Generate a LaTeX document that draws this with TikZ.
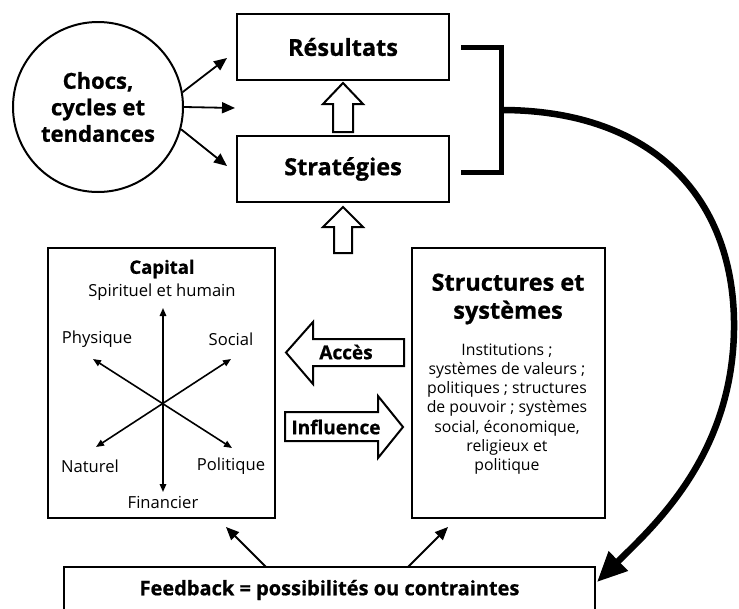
\documentclass[tikz,border=0pt]{standalone}
\usepackage{fontspec}
\setmainfont{Open Sans}[BoldFeatures={FakeBold=0.8}]
\usetikzlibrary{arrows.meta}
\begin{document}
\begin{tikzpicture}[x=1pt,y=-1pt,
  box/.style={draw, line width=2pt, rectangle, inner sep=0pt},
  bigtitle/.style={font=\fontsize{23.5}{28}\selectfont\bfseries, align=center},
  smalltitle/.style={font=\fontsize{19}{21}\selectfont\bfseries},
  label/.style={font=\fontsize{16.6}{19}\selectfont},
  body/.style={font=\fontsize{15.8}{19.2}\selectfont, align=center},
  thinarrow/.style={line width=1.8pt, -{Triangle[length=13pt,width=11pt]}},
  stararrow/.style={line width=1.6pt, {Triangle[length=8pt,width=6.5pt]}-{Triangle[length=8pt,width=6.5pt]}},
  hollow/.style={draw, fill=white, line width=2pt, line join=miter},
  bracket/.style={line width=5pt, line join=miter, line cap=butt},
  loopback/.style={line width=6.5pt, -{Triangle[length=30pt,width=26pt]}}
]
\clip (0,0) rectangle (739,608);
\fill[white] (0,0) rectangle (739,608);

% top boxes
\node[box, bigtitle, minimum width=212pt, minimum height=66pt] (res) at (343,47) {Résultats};
\node[box, bigtitle, minimum width=212pt, minimum height=66pt] (strat) at (343,169) {Stratégies};

% shocks circle
\node[draw, circle, line width=2pt, minimum size=170pt, inner sep=0pt,
      font=\fontsize{22}{26.5}\selectfont\bfseries, align=center] (shock) at (98,107)
      {Chocs,\\cycles et\\tendances};
\coordinate (sh1) at (227,58);
\coordinate (sh2) at (235,108);
\coordinate (sh3) at (227,166);
\draw[thinarrow] (shock.10) -- (sh1);
\draw[thinarrow] (shock.0) -- (sh2);
\draw[thinarrow] (shock.-15) -- (sh3);

% hollow up arrows
\draw[hollow] (333,132) -- (333,104) -- (323,104) -- (343,83) -- (363,104) -- (353,104) -- (353,132) -- cycle;
\draw[hollow] (334,253) -- (334,227) -- (323,227) -- (343,207) -- (363,227) -- (352,227) -- (352,253) -- cycle;

% bracket joining the two top boxes
\coordinate (bt) at (461,47);
\coordinate (bb) at (461,172);
\coordinate (bm) at (501,110);
\draw[bracket] (bt) -- (501,47) -- (501,172) -- (bb);

% capital box
\node[box, minimum width=227pt, minimum height=270pt] (cap) at (161.5,383) {};
\node[font=\fontsize{18.5}{20}\selectfont\bfseries] (captitle) at (162,269) {Capital};
\node[label] (spi) at (162,292) {Spirituel et humain};
\node[label] (phy) at (97,339) {Physique};
\node[label] (soc) at (231,339) {Social};
\node[label] (nat) at (90,466) {Naturel};
\node[label] (pol) at (231,466) {Politique};
\node[label] (fin) at (163,502) {Financier};
\coordinate (sN) at (163,308);
\coordinate (sS) at (163,492);
\coordinate (sNW) at (93,359);
\coordinate (sSE) at (232,448);
\coordinate (sNE) at (231,359);
\coordinate (sSW) at (96,447);
\draw[stararrow] (sS) -- (sN);
\draw[stararrow] (sNW) -- (sSE);
\draw[stararrow] (sSW) -- (sNE);

% structures box
\node[box, minimum width=193pt, minimum height=270pt] (struct) at (508.5,383) {};
\node[bigtitle] (sttitle) at (508,299) {Structures et\\systèmes};
\node[body] (stbody) at (507,409) {Institutions ;\\systèmes de valeurs ;\\politiques ; structures\\de pouvoir ; systèmes\\social, économique,\\religieux et\\politique};

% access and influence arrows
\draw[hollow] (286,352.5) -- (313,322) -- (313,339) -- (404,339) -- (404,366) -- (313,366) -- (313,384) -- cycle;
\node[smalltitle] (acc) at (346,352) {Accès};
\draw[hollow] (285,412) -- (378,412) -- (378,396) -- (403,427) -- (378,458) -- (378,441) -- (285,441) -- cycle;
\node[smalltitle] (inf) at (336,427) {Influence};

% feedback box
\node[box, minimum width=531pt, minimum height=46pt,
      font=\fontsize{20}{22}\selectfont\bfseries] (fb) at (329.5,590)
      {Feedback = possibilités ou contraintes};
\coordinate (fbL) at (266,567);
\coordinate (fbR) at (408,567);
\coordinate (capIn) at (226,527);
\coordinate (stIn) at (448,527);
\draw[thinarrow] (fbL) -- (capIn);
\draw[thinarrow] (fbR) -- (stIn);

% loop from the bracket back to the feedback box
\coordinate (fbTip) at (597,582);
\draw[loopback] (bm) .. controls (655,110) and (736,200) .. (734,330)
  .. controls (732,455) and (655,525) .. (fbTip);
\end{tikzpicture}
\end{document}
